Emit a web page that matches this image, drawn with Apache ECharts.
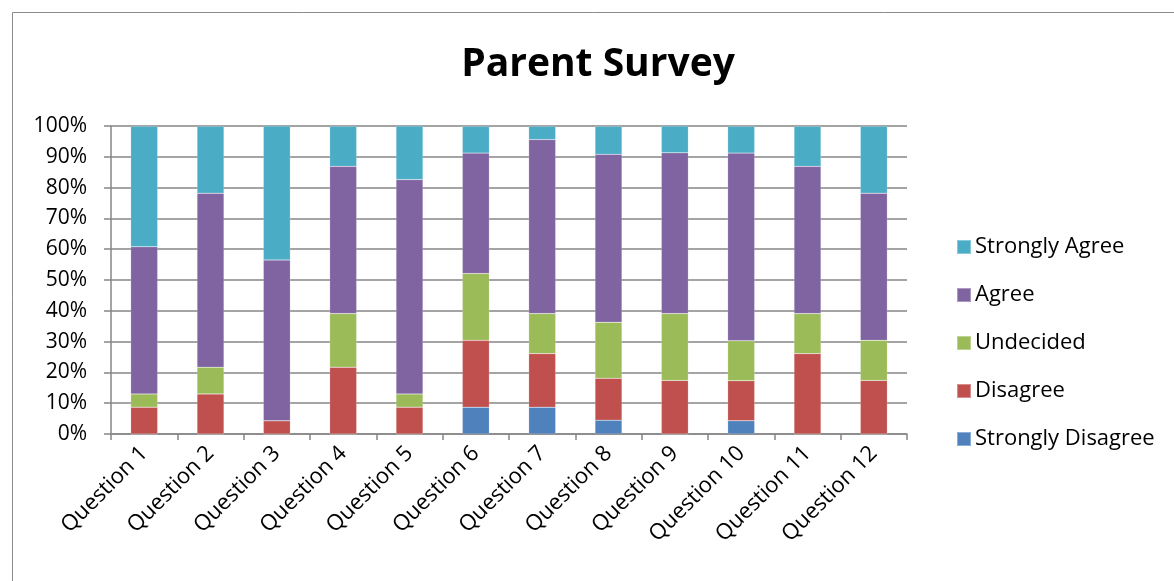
<!DOCTYPE html>
<html>
<head>
<meta charset="utf-8">
<script src="https://cdn.jsdelivr.net/npm/echarts@6/dist/echarts.min.js"></script>
<style>html,body{margin:0;padding:0;background:#fff;}#c{width:1174px;height:581px;}</style>
</head>
<body>
<div id="c"></div>
<script>
var categories = ['Question 1','Question 2','Question 3','Question 4','Question 5','Question 6','Question 7','Question 8','Question 9','Question 10','Question 11','Question 12'];
var stronglyDisagree = [0, 0, 0, 0, 0, 8.7, 8.7, 4.5, 0, 4.3, 0, 0];
var disagree         = [8.7, 13.0, 4.3, 21.7, 8.7, 21.7, 17.4, 13.6, 17.4, 13.0, 26.1, 17.4];
var undecided        = [4.3, 8.7, 0, 17.4, 4.3, 21.7, 13.0, 18.2, 21.7, 13.0, 13.0, 13.0];
var agree            = [47.8, 56.5, 52.2, 47.8, 69.6, 39.1, 56.5, 54.5, 52.2, 60.9, 47.8, 47.8];
var stronglyAgree    = [39.1, 21.7, 43.5, 13.0, 17.4, 8.7, 4.3, 9.1, 8.7, 8.7, 13.0, 21.7];
var yTicks = [0,10,20,30,40,50,60,70,80,90,100];

var font = 'Open Sans, Liberation Sans, sans-serif';
var chart = echarts.init(document.getElementById('c'), null, {renderer:'canvas'});
function s(name, data, color){
  return {name:name, type:'bar', stack:'total', data:data, barWidth:27,
    itemStyle:{color:color, borderColor:'rgba(255,255,255,0.35)', borderWidth:0.5}};
}
chart.setOption({
  animation:false,
  backgroundColor:'#fff',
  graphic:[{type:'rect', shape:{x:12.5,y:12.5,width:1200,height:600}, style:{fill:'none',stroke:'#8a8a8a',lineWidth:1}}],
  title:{text:'Parent Survey', left:593, top:40, textAlign:'center',
    textStyle:{fontFamily:'Open Sans, sans-serif', fontWeight:'bold', fontSize:39, color:'#000'}},
  legend:{orient:'vertical', left:951, top:231, itemWidth:14, itemHeight:14, itemGap:26,
    icon:'rect',
    data:['Strongly Agree','Agree','Undecided','Disagree','Strongly Disagree'],
    textStyle:{fontFamily:font, fontSize:22, color:'#000', lineHeight:22, padding:[0,0,0,-1]}},
  grid:{left:111, right:267, top:126, bottom:147, containLabel:false},
  xAxis:{type:'category', data:categories,
    axisLine:{lineStyle:{color:'#868686', width:1.5}},
    axisTick:{show:true, length:6, lineStyle:{color:'#868686', width:1.5}},
    axisLabel:{rotate:45, fontFamily:font, fontSize:22, color:'#000', margin:16, interval:0}},
  yAxis:{type:'value', min:0, max:100, interval:10,
    axisLine:{show:true, lineStyle:{color:'#868686', width:1.5}},
    axisTick:{show:true, length:7, lineStyle:{color:'#868686', width:1.5}},
    splitLine:{show:true, lineStyle:{color:'#868686', width:1.5}},
    axisLabel:{fontFamily:font, fontSize:21, color:'#000', margin:24,
      formatter:function(v){return yTicks.indexOf(v)>=0 ? v+'%' : '';}}},
  series:[
    s('Strongly Disagree', stronglyDisagree, '#4F81BD'),
    s('Disagree', disagree, '#C0504D'),
    s('Undecided', undecided, '#9BBB59'),
    s('Agree', agree, '#8064A2'),
    s('Strongly Agree', stronglyAgree, '#4BACC6')
  ]
});
</script>
</body>
</html>
